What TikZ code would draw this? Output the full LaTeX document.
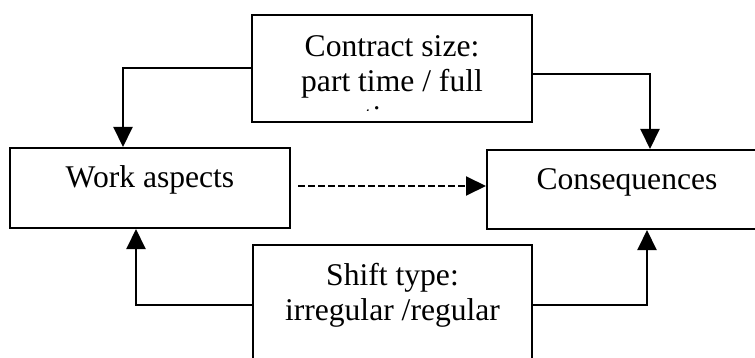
\documentclass[tikz,border=0pt]{standalone}
\usepackage{fontspec}
\setmainfont{Liberation Serif}
\usetikzlibrary{arrows.meta}
\begin{document}
\begin{tikzpicture}[x=0.5pt,y=-0.5pt,
		box/.style={draw,line width=1pt,inner sep=0pt},
		txt/.style={anchor=base,inner sep=0pt,font=\fontsize{15.8}{19}\selectfont},
		conn/.style={line width=1pt,-{Triangle[length=10pt,width=9.5pt]}}]
	\useasboundingbox (0,0) rectangle (755,358);
	\clip (0,0) rectangle (755,358);
		\node (Cs) at (392,68.5) [box,minimum width=140pt,minimum height=53.5pt] {};
		\node (Wa) at (150,188) [box,minimum width=140pt,minimum height=40pt] {};
		\node (Cq) at (627,189.5) [box,minimum width=140pt,minimum height=39.5pt] {};
		\node (St) at (392.5,305) [box,minimum width=139.5pt,minimum height=60pt] {};
		% texts
		\node (Cs1) at (392,57) [txt] {Contract size:};
		\node (Cs2) at (392,92) [txt] {part time / full};
		\begin{scope}
			\clip (Cs.north west) rectangle ([yshift=6pt]Cs.south east);
			\node (Cs3) at (392,127) [txt] {time};
		\end{scope}
		\node (Wa1) at (150,187) [txt] {Work aspects};
		\node (Cq1) at (627,190) [txt] {Consequences};
		\node (St1) at (392.5,285) [txt] {Shift type:};
		\node (St2) at (392.5,320) [txt] {irregular /regular};
		% connectors
		\draw[conn] (Cs.west) -| ([xshift=-13.5pt]Wa.north);
		\draw[conn] ([yshift=-2.75pt]Cs.east) -| ([xshift=11.5pt]Cq.north);
		\draw[conn] (St.west) -| ([xshift=-7pt]Wa.south);
		\draw[conn] (St.east) -| ([xshift=10pt]Cq.south);
		\draw[conn,dash pattern=on 3.5pt off 1.5pt,shorten <=3.5pt] ([yshift=1pt]Wa.east) -- ([yshift=1pt]Wa.east -| Cq.west);
	\end{tikzpicture}
\end{document}
